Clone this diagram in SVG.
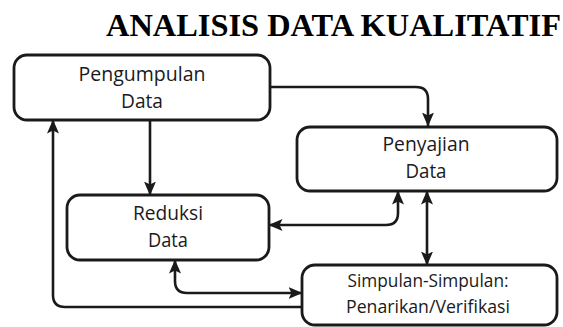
<svg xmlns="http://www.w3.org/2000/svg" width="563" height="327" viewBox="0 0 563 327">
<style>
.box{fill:#fff;stroke:#1a1a1a;stroke-width:2.8}
.lbl{font-family:"Open Sans","Noto Sans",sans-serif;font-size:20.5px;fill:#1a1a1a;text-anchor:middle}
.sm{font-size:19px}
.title{font-family:"Liberation Serif","Times New Roman",serif;font-weight:bold;font-size:31.5px;fill:#000}
.con{fill:none;stroke:#1a1a1a;stroke-width:2.6}
</style>
<defs>
<marker id="ah" viewBox="0 0 14 12" refX="13.5" refY="6" markerWidth="14" markerHeight="12" markerUnits="userSpaceOnUse" orient="auto-start-reverse">
<path d="M0,0 L14,6 L0,12 L3,6 Z" fill="#1a1a1a"/>
</marker>
</defs>
<rect width="563" height="327" fill="#fff"/>
<text class="title" x="106" y="36" textLength="455" lengthAdjust="spacingAndGlyphs">ANALISIS DATA KUALITATIF</text>
<g id="connectors">
<path class="con" d="M270,87 H416 Q428,87 428,99 V126" marker-end="url(#ah)"/>
<path class="con" d="M150,120 V195" marker-end="url(#ah)"/>
<path class="con" d="M302,307 H65 Q53,307 53,295 V120" marker-end="url(#ah)"/>
<path class="con" d="M398,191 V213 Q398,225 386,225 H269" marker-start="url(#ah)" marker-end="url(#ah)"/>
<path class="con" d="M427,191 V265" marker-start="url(#ah)" marker-end="url(#ah)"/>
<path class="con" d="M175,260 V281 Q175,293 187,293 H302" marker-start="url(#ah)" marker-end="url(#ah)"/>
</g>
<g id="node-pengumpulan">
<rect class="box" x="14" y="55" width="256" height="65" rx="13"/>
<text class="lbl" x="142" y="81" textLength="127" lengthAdjust="spacingAndGlyphs">Pengumpulan</text>
<text class="lbl" x="142" y="108" textLength="42" lengthAdjust="spacingAndGlyphs">Data</text>
</g>
<g id="node-penyajian">
<rect class="box" x="297" y="127" width="260" height="64" rx="13"/>
<text class="lbl" x="426" y="151" textLength="87" lengthAdjust="spacingAndGlyphs">Penyajian</text>
<text class="lbl" x="426" y="178" textLength="41" lengthAdjust="spacingAndGlyphs">Data</text>
</g>
<g id="node-reduksi">
<rect class="box" x="67" y="195" width="202" height="65" rx="13"/>
<text class="lbl" x="168" y="220" textLength="70" lengthAdjust="spacingAndGlyphs">Reduksi</text>
<text class="lbl" x="168" y="247" textLength="40" lengthAdjust="spacingAndGlyphs">Data</text>
</g>
<g id="node-simpulan">
<rect class="box" x="302" y="265" width="255" height="60" rx="13"/>
<text class="lbl sm" x="428" y="287" textLength="161" lengthAdjust="spacingAndGlyphs">Simpulan-Simpulan:</text>
<text class="lbl sm" x="428" y="313" textLength="164" lengthAdjust="spacingAndGlyphs">Penarikan/Verifikasi</text>
</g>
</svg>
